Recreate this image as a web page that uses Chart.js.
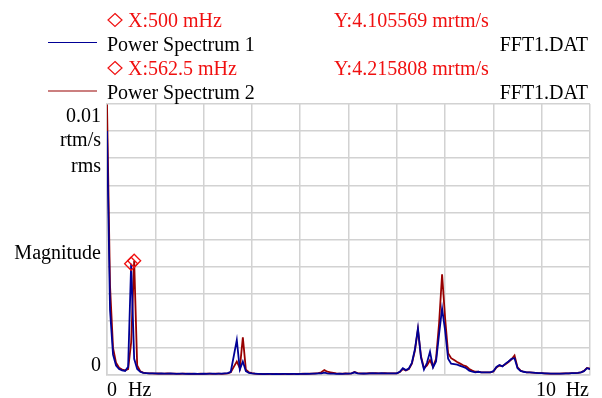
<!DOCTYPE html>
<html>
<head>
<meta charset="utf-8">
<script src="https://cdn.jsdelivr.net/npm/chart.js@4.4.1/dist/chart.umd.min.js"></script>
<style>
  html, body { margin: 0; padding: 0; background: #fff; }
  #wrap { width: 602px; height: 398px; }
</style>
</head>
<body>
<div id="wrap"><canvas id="spectrum" width="602" height="398"></canvas></div>
<script>
// bin width of both FFTs (Hz)
const BIN_HZ = 0.0625;
const X_MAX_HZ = 10;
const Y_MAX = 10; // mrtm/s  (= 0.01 rtm/s at the top of the scale)

// magnitudes in mrtm/s, one row per Hz (16 bins)
const spectrum1 = [
  9.0, 2.4, 0.75, 0.35, 0.22, 0.17, 0.15, 0.3, 4.105569, 0.6, 0.22, 0.12, 0.08, 0.07, 0.06, 0.06,
  0.06, 0.05, 0.06, 0.05, 0.05, 0.06, 0.05, 0.04, 0.05, 0.05, 0.04, 0.05, 0.04, 0.05, 0.04, 0.04,
  0.05, 0.04, 0.05, 0.05, 0.04, 0.05, 0.05, 0.06, 0.07, 0.12, 0.7, 1.29, 0.2, 0.5, 0.14, 0.08,
  0.06, 0.05, 0.04, 0.04, 0.03, 0.04, 0.04, 0.03, 0.04, 0.03, 0.04, 0.04, 0.03, 0.04, 0.04, 0.03,
  0.04, 0.04, 0.05, 0.04, 0.05, 0.05, 0.06, 0.06, 0.09, 0.06, 0.05, 0.05, 0.04, 0.05, 0.04, 0.05,
  0.05, 0.06, 0.1, 0.06, 0.05, 0.06, 0.05, 0.06, 0.07, 0.06, 0.06, 0.07, 0.06, 0.06, 0.06, 0.06,
  0.06, 0.12, 0.25, 0.18, 0.24, 0.45, 0.95, 1.72, 0.65, 0.2, 0.45, 0.86, 0.28, 0.5, 1.5, 2.46,
  1.65, 0.6, 0.42, 0.4, 0.38, 0.34, 0.3, 0.25, 0.16, 0.12, 0.1, 0.12, 0.1, 0.1, 0.1, 0.1,
  0.14, 0.3, 0.37, 0.32, 0.42, 0.5, 0.6, 0.62, 0.25, 0.15, 0.12, 0.1, 0.1, 0.09, 0.08, 0.07,
  0.07, 0.06, 0.06, 0.05, 0.05, 0.05, 0.05, 0.05, 0.06, 0.06, 0.07, 0.07, 0.08, 0.1, 0.14, 0.25,
  0.22
];
const spectrum2 = [
  9.98, 3.3, 1.0, 0.45, 0.27, 0.2, 0.17, 0.22, 1.2, 4.215808, 0.35, 0.14, 0.09, 0.07, 0.06, 0.06,
  0.05, 0.06, 0.05, 0.05, 0.06, 0.05, 0.05, 0.05, 0.04, 0.05, 0.05, 0.04, 0.05, 0.04, 0.04, 0.05,
  0.04, 0.05, 0.05, 0.04, 0.05, 0.05, 0.04, 0.05, 0.06, 0.1, 0.3, 0.5, 0.25, 1.39, 0.2, 0.1,
  0.07, 0.05, 0.04, 0.03, 0.04, 0.03, 0.04, 0.04, 0.03, 0.04, 0.03, 0.04, 0.04, 0.03, 0.04, 0.04,
  0.04, 0.05, 0.04, 0.05, 0.05, 0.06, 0.07, 0.1, 0.18, 0.12, 0.1, 0.08, 0.06, 0.05, 0.05, 0.06,
  0.05, 0.06, 0.11, 0.07, 0.06, 0.05, 0.06, 0.07, 0.06, 0.07, 0.06, 0.06, 0.07, 0.06, 0.06, 0.06,
  0.06, 0.11, 0.22, 0.17, 0.22, 0.42, 0.9, 1.68, 0.7, 0.25, 0.35, 0.55, 0.3, 0.6, 1.9, 3.72,
  2.1, 0.8, 0.62, 0.55, 0.48, 0.42, 0.36, 0.32, 0.22, 0.16, 0.12, 0.12, 0.1, 0.1, 0.1, 0.1,
  0.13, 0.28, 0.35, 0.33, 0.4, 0.48, 0.58, 0.72, 0.28, 0.16, 0.12, 0.1, 0.1, 0.09, 0.08, 0.07,
  0.07, 0.06, 0.05, 0.05, 0.05, 0.05, 0.05, 0.06, 0.06, 0.06, 0.07, 0.07, 0.08, 0.1, 0.15, 0.26,
  0.23
];

// cursor readouts (one per trace)
const cursorHz = [0.5, 0.5625];
const cursorMag = [4.105569, 4.215808];

const seriesNames = ['Power Spectrum 1', 'Power Spectrum 2'];
const seriesFiles = ['FFT1.DAT', 'FFT1.DAT'];
const seriesColors = ['#000096', '#980000'];
const yTickLabels = ['0', '0.01'];
const yUnitLines = ['rtm/s', 'rms'];
const yTitle = 'Magnitude';
const xTickLabels = ['0', '10'];
const xUnit = 'Hz';

const CURSOR_RED = '#f01010';
const GRID = '#d2d2d2';
const FONT = '20px "Liberation Serif", "Times New Roman", serif';

const toPoints = arr => arr.map((v, i) => ({ x: i * BIN_HZ, y: v }));

function diamond(ctx, x, y, rx, ry) {
  ctx.beginPath();
  ctx.moveTo(x, y - ry);
  ctx.lineTo(x + rx, y);
  ctx.lineTo(x, y + ry);
  ctx.lineTo(x - rx, y);
  ctx.closePath();
  ctx.stroke();
}

// header, legend and axis captions
const captions = {
  id: 'captions',
  afterDraw(chart) {
    const { ctx, chartArea: a } = chart;
    ctx.save();
    ctx.font = FONT;
    ctx.textBaseline = 'alphabetic';

    const rows = [26.5, 50.5, 74.5, 99];
    for (let s = 0; s < 2; s++) {
      const rc = rows[s * 2];
      const rl = rows[s * 2 + 1];
      // cursor line
      ctx.strokeStyle = CURSOR_RED;
      ctx.lineWidth = 1.2;
      diamond(ctx, 115, rc - 6.5, 7, 6.5);
      ctx.fillStyle = CURSOR_RED;
      ctx.textAlign = 'left';
      ctx.fillText('X:' + (cursorHz[s] * 1000) + ' mHz', 128, rc);
      ctx.fillText('Y:' + cursorMag[s] + ' mrtm/s', 334, rc);
      // legend line
      ctx.strokeStyle = seriesColors[s];
      ctx.lineWidth = 1.2;
      ctx.beginPath();
      ctx.moveTo(48, rl - 8);
      ctx.lineTo(97, rl - 8);
      ctx.stroke();
      ctx.fillStyle = '#000';
      ctx.fillText(seriesNames[s], 107, rl);
      ctx.textAlign = 'right';
      ctx.fillText(seriesFiles[s], 588, rl);
    }

    // y axis captions
    ctx.fillStyle = '#000';
    ctx.textAlign = 'right';
    const lx = a.left - 6;
    ctx.fillText(yTickLabels[1], lx, a.top + 18);
    ctx.fillText(yUnitLines[0], lx, a.top + 42);
    ctx.fillText(yUnitLines[1], lx, a.top + 68);
    ctx.fillText(yTitle, lx, a.top + 155);
    ctx.fillText(yTickLabels[0], lx, a.bottom - 4);

    // x axis captions
    const by = a.bottom + 20.5;
    ctx.textAlign = 'left';
    ctx.fillText(xTickLabels[0], a.left, by);
    ctx.fillText(xUnit, a.left + 21, by);
    ctx.textAlign = 'right';
    ctx.fillText(xUnit, a.right - 1, by);
    ctx.fillText(xTickLabels[1], a.right - 34, by);
    ctx.restore();
  }
};

new Chart(document.getElementById('spectrum'), {
  type: 'line',
  data: {
    datasets: [
      {
        data: toPoints(spectrum1),
        borderColor: seriesColors[0],
        borderWidth: 1.8
      },
      {
        data: toPoints(spectrum2),
        borderColor: seriesColors[1],
        borderWidth: 1.8
      },
      {
        type: 'scatter',
        data: cursorHz.map((x, i) => ({ x, y: cursorMag[i] })),
        showLine: false,
        pointStyle: 'rectRot',
        pointRadius: 6.5,
        pointBorderWidth: 1.3,
        pointBorderColor: CURSOR_RED,
        pointBackgroundColor: 'rgba(0,0,0,0)',
        order: -1
      }
    ]
  },
  options: {
    responsive: false,
    devicePixelRatio: 1,
    animation: false,
    events: [],
    layout: { padding: { left: 107, top: 104, right: 12, bottom: 23 } },
    elements: {
      point: { radius: 0 },
      line: { tension: 0 }
    },
    plugins: { legend: { display: false }, tooltip: { enabled: false } },
    scales: {
      x: {
        type: 'linear',
        min: 0,
        max: X_MAX_HZ,
        ticks: { display: false, stepSize: 1 },
        grid: { color: GRID, lineWidth: 1.5, drawTicks: false },
        border: { color: GRID, width: 1.5 }
      },
      y: {
        type: 'linear',
        min: 0,
        max: Y_MAX,
        ticks: { display: false, stepSize: 1 },
        grid: { color: GRID, lineWidth: 1.5, drawTicks: false },
        border: { color: GRID, width: 1.5 }
      }
    }
  },
  plugins: [captions]
});
</script>
</body>
</html>
